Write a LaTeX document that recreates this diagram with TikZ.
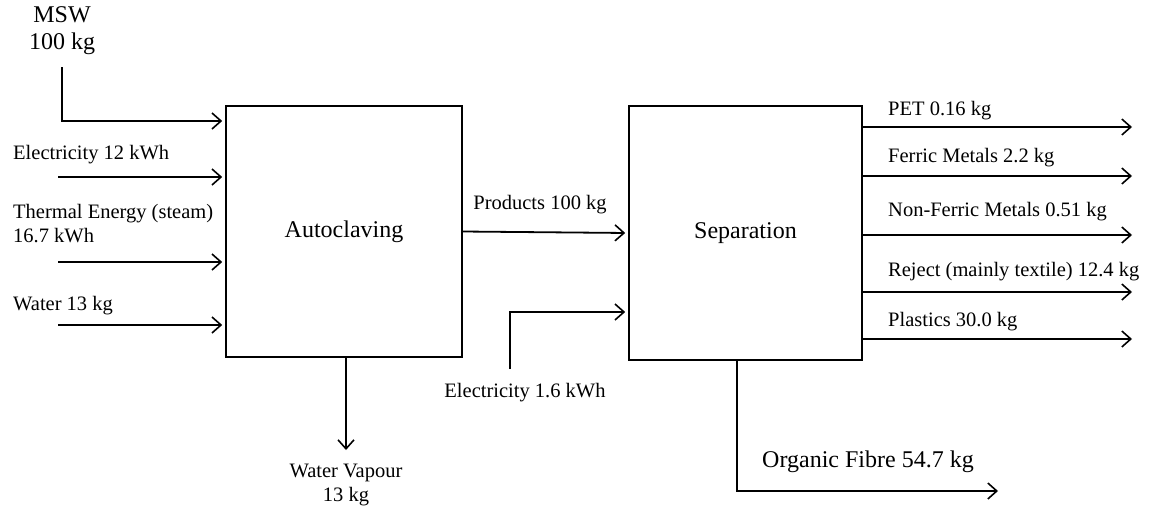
\documentclass[tikz,border=0pt]{standalone}
\usepackage{fontspec}
\setmainfont{Liberation Serif}
\usetikzlibrary{arrows.meta}
\tikzset{
  flow/.style={line width=1.8pt,-{Straight Barb[length=9pt,width=16pt,line width=1.6pt]}},
  unit/.style={draw,line width=1.6pt,font=\fontsize{24}{28}\selectfont},
  lbl/.style={font=\fontsize{20.5}{24}\selectfont,inner sep=0pt,align=left},
  biglbl/.style={font=\fontsize{24}{27}\selectfont,inner sep=0pt,align=center},
}
\begin{document}
\begin{tikzpicture}[x=1pt,y=-1pt]
\useasboundingbox (0,0) rectangle (1164,512);
% process units
\node[unit,minimum width=236pt,minimum height=251pt] (auto) at (344,231.5) {Autoclaving};
\node[unit,minimum width=233pt,minimum height=254pt] (sep) at (745.5,233) {Separation};
% inputs to autoclaving
\node[biglbl] (msw) at (62,31) {MSW\\100 kg};
\coordinate (mswtop) at (62,67);
\draw[flow,shorten >=3pt] (mswtop) |- (auto.west |- 0,121);
\node[lbl,anchor=west] (elec) at (13,155) {Electricity 12 kWh};
\coordinate (elecin) at (58,177);
\draw[flow,shorten >=3pt] (elecin) -- (elecin -| auto.west);
\node[lbl,anchor=west] (steam) at (13,224) {Thermal Energy (steam)\\16.7 kWh};
\coordinate (steamin) at (58,262);
\draw[flow,shorten >=3pt] (steamin) -- (steamin -| auto.west);
\node[lbl,anchor=west] (water) at (13,306) {Water 13 kg};
\coordinate (waterin) at (58,325);
\draw[flow,shorten >=3pt] (waterin) -- (waterin -| auto.west);
% vapour out
\coordinate (vap) at (346,450);
\draw[flow] (vap |- auto.south) -- (vap);
\node[lbl,align=center] (vaplbl) at (346,485) {Water Vapour\\13 kg};
% products
\node[lbl] (prod) at (540,205) {Products 100 kg};
\draw[flow,shorten >=3pt] (auto.east) -- (sep.west);
\coordinate (elec2) at (510,369);
\draw[flow,shorten >=3pt] (elec2) |- (sep.west |- 0,312);
\node[lbl] (elec2lbl) at (525,393) {Electricity 1.6 kWh};
% separated fractions
\foreach \y/\ly/\t [count=\i] in {127/111/PET 0.16 kg,176/158/Ferric Metals 2.2 kg,235/212/Non-Ferric Metals 0.51 kg,292/272/Reject (mainly textile) 12.4 kg,339/322/Plastics 30.0 kg}{
  \coordinate (out\i) at (1132,\y);
  \draw[flow] (sep.east |- out\i) -- (out\i);
  \node[lbl,anchor=west] (outlbl\i) at (888,\ly) {\t};
}
\coordinate (fibre) at (998,491);
\draw[flow] (sep.south -| 737,0) |- (fibre);
\node[biglbl] (fibrelbl) at (868,462) {Organic Fibre 54.7 kg};
\end{tikzpicture}
\end{document}
